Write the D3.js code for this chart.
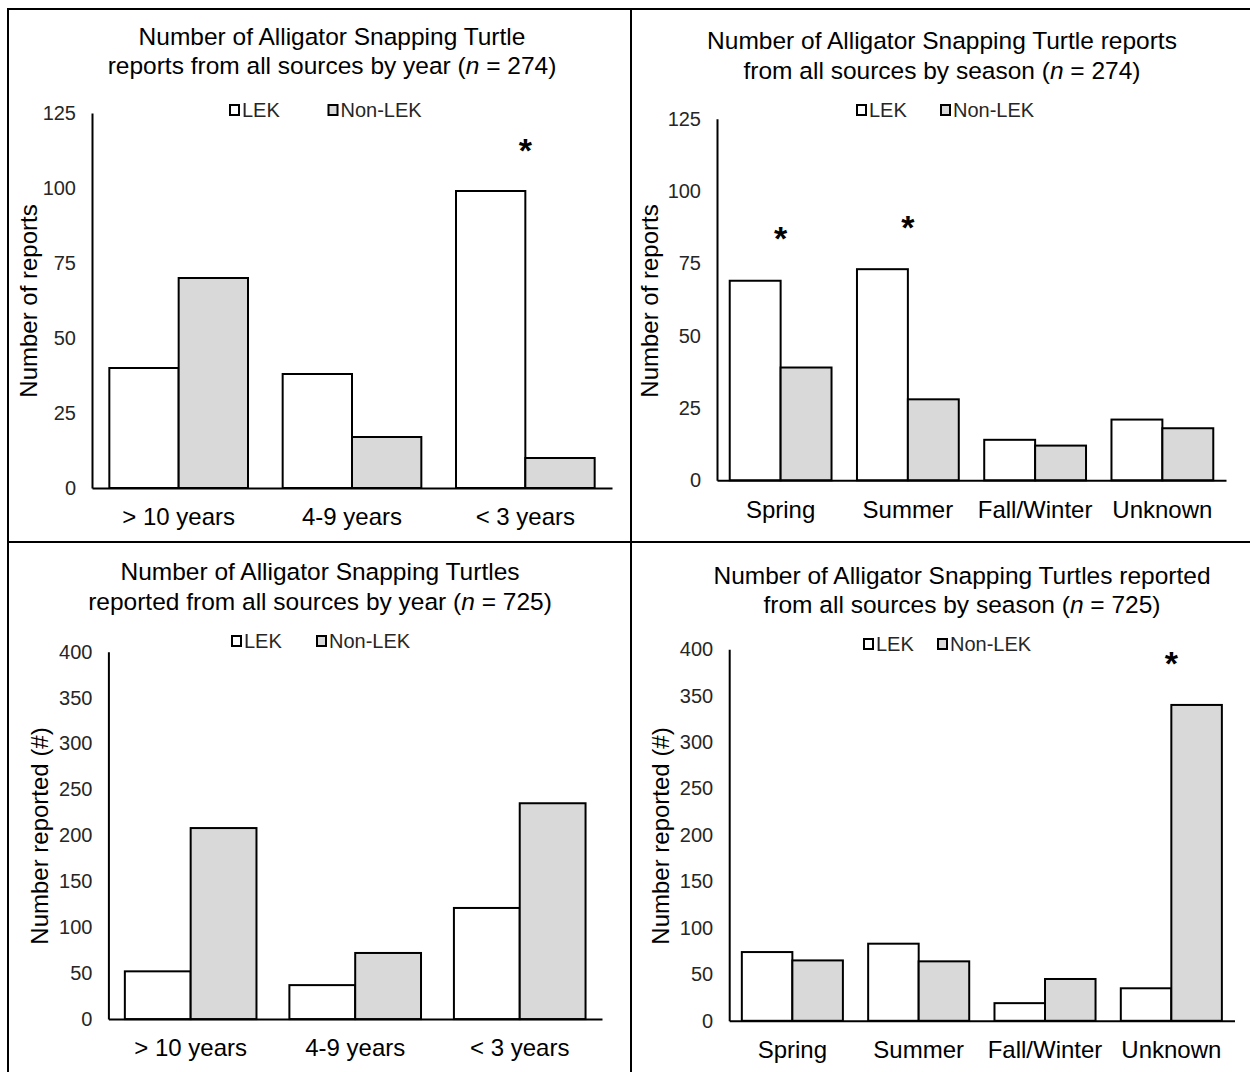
<!DOCTYPE html>
<html>
<head>
<meta charset="utf-8">
<script src="https://cdn.jsdelivr.net/npm/d3@7"></script>
<style>
  html, body { margin: 0; padding: 0; background: #fff; }
  svg { display: block; font-family: "Liberation Sans", Arial, sans-serif; }
</style>
</head>
<body>
<svg id="fig" width="1250" height="1072"></svg>
<script>
// ---- data ----
const yearCategories = ["> 10 years", "4-9 years", "< 3 years"];
const seasonCategories = ["Spring", "Summer", "Fall/Winter", "Unknown"];
const seriesNames = ["LEK", "Non-LEK"];

const reportsByYearLEK = [40, 38, 99];
const reportsByYearNonLEK = [70, 17, 10];
const reportsBySeasonLEK = [69, 73, 14, 21];
const reportsBySeasonNonLEK = [39, 28, 12, 18];
const turtlesByYearLEK = [52, 37, 121];
const turtlesByYearNonLEK = [208, 72, 235];
const turtlesBySeasonLEK = [74, 83, 19, 35];
const turtlesBySeasonNonLEK = [65, 64, 45, 340];

const reportTicks = [0, 25, 50, 75, 100, 125];
const turtleTicks = [0, 50, 100, 150, 200, 250, 300, 350, 400];

// significance markers: category and the value level where the "*" sits
const reportsByYearStars = [{ category: "< 3 years", level: 114 }];
const reportsBySeasonStars = [{ category: "Spring", level: 85 }, { category: "Summer", level: 89 }];
const turtlesByYearStars = [];
const turtlesBySeasonStars = [{ category: "Unknown", level: 389 }];

// ---- styling ----
const seriesFill = { "LEK": "#ffffff", "Non-LEK": "#d9d9d9" };
const ink = "#000000";
const tickInk = "#262626";

const svg = d3.select("#fig");

// panel frame
const frame = svg.append("g").attr("stroke", ink).attr("stroke-width", 2);
frame.append("line").attr("x1", 8).attr("x2", 1250).attr("y1", 9).attr("y2", 9);
frame.append("line").attr("x1", 8).attr("x2", 1250).attr("y1", 542).attr("y2", 542);
frame.append("line").attr("x1", 8).attr("x2", 8).attr("y1", 8).attr("y2", 1072);
frame.append("line").attr("x1", 631).attr("x2", 631).attr("y1", 8).attr("y2", 1072);

function drawPanel(cfg) {
  const g = svg.append("g");
  const data = cfg.categories.map((c, i) => ({ category: c, "LEK": cfg.lek[i], "Non-LEK": cfg.nonLek[i] }));

  const x = d3.scaleBand().domain(cfg.categories).range([cfg.left, cfg.right])
    .paddingInner(0.2).paddingOuter(0.1);
  const xs = d3.scaleBand().domain(seriesNames).range([0, x.bandwidth()]);
  const y = d3.scaleLinear().domain([0, cfg.ticks[cfg.ticks.length - 1]]).range([cfg.zero, cfg.top]);

  // title
  const title = g.append("text").attr("text-anchor", "middle").attr("font-size", cfg.titleSize)
    .attr("fill", ink);
  cfg.title.forEach((line, li) => {
    const t = title.append("tspan").attr("x", cfg.titleX).attr("y", cfg.titleY + li * 29.5);
    line.forEach(part => {
      t.append("tspan").text(part.text).attr("font-style", part.italic ? "italic" : null);
    });
  });

  // legend
  const leg = g.append("g").attr("transform", `translate(0,${cfg.legendY})`);
  seriesNames.forEach((s, i) => {
    const lx = cfg.legendX[i];
    leg.append("rect").attr("x", lx).attr("y", -5).attr("width", 9).attr("height", 10)
      .attr("fill", seriesFill[s]).attr("stroke", ink).attr("stroke-width", 2);
    leg.append("text").attr("x", lx + 12).attr("y", 0).attr("dy", "0.36em")
      .attr("font-size", 20).attr("fill", tickInk).text(s);
  });

  // bars
  g.append("g").selectAll("g").data(data).join("g")
    .attr("transform", d => `translate(${x(d.category)},0)`)
    .selectAll("rect").data(d => seriesNames.map(s => ({ s, v: d[s] }))).join("rect")
    .attr("x", d => xs(d.s)).attr("width", xs.bandwidth())
    .attr("y", d => y(d.v)).attr("height", d => y(0) - y(d.v))
    .attr("fill", d => seriesFill[d.s]).attr("stroke", ink).attr("stroke-width", 2);

  // y axis
  const yAxis = g.append("g").attr("transform", `translate(${cfg.left},0)`)
    .call(d3.axisLeft(y).tickValues(cfg.ticks).tickSize(0).tickPadding(16));
  yAxis.select(".domain").attr("stroke", ink).attr("stroke-width", 2);
  yAxis.selectAll("text").attr("font-size", 20).attr("fill", tickInk)
    .attr("font-family", "Liberation Sans, Arial, sans-serif");

  // x axis
  const xAxis = g.append("g").attr("transform", `translate(0,${cfg.zero})`)
    .call(d3.axisBottom(x).tickSize(0).tickPadding(0));
  xAxis.select(".domain").attr("stroke", ink).attr("stroke-width", 2);
  xAxis.selectAll("text").attr("font-size", 24).attr("fill", ink)
    .attr("font-family", "Liberation Sans, Arial, sans-serif")
    .attr("y", 29).attr("dy", "0.35em");

  // axis title
  g.append("text").attr("transform", `translate(${cfg.yTitleX},${cfg.yTitleY}) rotate(-90)`)
    .attr("text-anchor", "middle").attr("dy", "0.35em").attr("font-size", 24).attr("fill", ink)
    .text(cfg.yTitle);

  // significance stars
  g.append("g").selectAll("text").data(cfg.stars).join("text")
    .attr("x", d => x(d.category) + x.bandwidth() / 2)
    .attr("y", d => y(d.level)).attr("dy", "0.46em")
    .attr("text-anchor", "middle").attr("font-size", 34).attr("font-weight", "bold")
    .attr("fill", ink).text("*");
}

drawPanel({
  categories: yearCategories, lek: reportsByYearLEK, nonLek: reportsByYearNonLEK,
  ticks: reportTicks, stars: reportsByYearStars,
  left: 92, right: 612, top: 113, zero: 488,
  title: [[{ text: "Number  of Alligator Snapping  Turtle" }],
          [{ text: "reports from all sources by year (" }, { text: "n", italic: true }, { text: " = 274)" }]],
  titleSize: 24.5, titleX: 332, titleY: 44.5,
  legendX: [230, 328.5], legendY: 110,
  yTitle: "Number  of reports", yTitleX: 29, yTitleY: 301
});

drawPanel({
  categories: seasonCategories, lek: reportsBySeasonLEK, nonLek: reportsBySeasonNonLEK,
  ticks: reportTicks, stars: reportsBySeasonStars,
  left: 717, right: 1226, top: 118.8, zero: 480.3,
  title: [[{ text: "Number  of Alligator Snapping  Turtle reports" }],
          [{ text: "from all sources by season (" }, { text: "n", italic: true }, { text: " = 274)" }]],
  titleSize: 24.5, titleX: 942, titleY: 49,
  legendX: [857, 941], legendY: 110,
  yTitle: "Number  of reports", yTitleX: 650, yTitleY: 301
});

drawPanel({
  categories: yearCategories, lek: turtlesByYearLEK, nonLek: turtlesByYearNonLEK,
  ticks: turtleTicks, stars: turtlesByYearStars,
  left: 108.4, right: 602, top: 651.7, zero: 1019.1,
  title: [[{ text: "Number  of Alligator Snapping  Turtles" }],
          [{ text: "reported from all sources by year (" }, { text: "n", italic: true }, { text: " = 725)" }]],
  titleSize: 24.5, titleX: 320, titleY: 580,
  legendX: [232, 317], legendY: 641,
  yTitle: "Number  reported (#)", yTitleX: 40, yTitleY: 836
});

drawPanel({
  categories: seasonCategories, lek: turtlesBySeasonLEK, nonLek: turtlesBySeasonNonLEK,
  ticks: turtleTicks, stars: turtlesBySeasonStars,
  left: 729.2, right: 1234.5, top: 649.2, zero: 1020.8,
  title: [[{ text: "Number  of Alligator Snapping  Turtles reported" }],
          [{ text: "from all sources by season (" }, { text: "n", italic: true }, { text: " = 725)" }]],
  titleSize: 24.5, titleX: 962, titleY: 583.5,
  legendX: [864, 938], legendY: 644,
  yTitle: "Number  reported (#)", yTitleX: 661, yTitleY: 836
});
</script>
</body>
</html>
